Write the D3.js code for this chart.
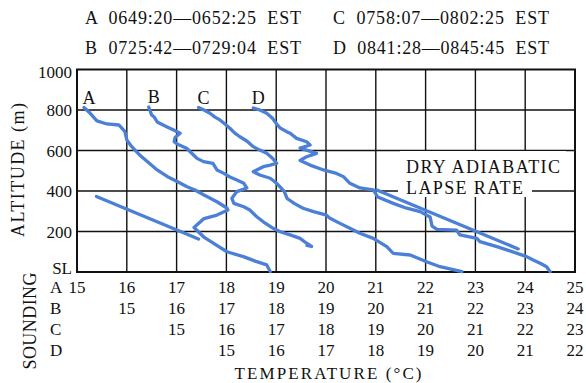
<!DOCTYPE html>
<html>
<head>
<meta charset="utf-8">
<script src="https://cdn.jsdelivr.net/npm/d3@7"></script>
<style>
  body { margin: 0; background: #fff; }
</style>
</head>
<body>
<figure id="chart" style="margin:0"></figure>
<script>
// soundings and their launch times
const soundings = ["A", "B", "C", "D"];
const soundingTimes = ["0649:20—0652:25", "0725:42—0729:04", "0758:07—0802:25", "0841:28—0845:45"];
// each sounding has its own temperature row under the plot, value at the left edge
const rowStart = [15, 14, 13, 12];
const altTicks = [0, 200, 400, 600, 800, 1000];
const altLabels = ["SL", "200", "400", "600", "800", "1000"];

// [temperature in that sounding's own scale, altitude m]
const soundingA = [[15.14, 812], [15.26, 785], [15.40, 746], [15.60, 731], [15.84, 726], [15.96, 694], [16.00, 652],
  [16.10, 619], [16.27, 575], [16.47, 533], [16.61, 504], [16.81, 472], [17.01, 447], [17.21, 421], [17.37, 405],
  [17.55, 380], [17.81, 347], [18.01, 316], [18.03, 306], [17.81, 281], [17.55, 264], [17.35, 220], [17.54, 174],
  [17.80, 133], [18.01, 100], [18.34, 76], [18.61, 51], [18.81, 35], [18.88, 2]];
const soundingB = [[15.44, 815], [15.50, 775], [15.55, 765], [15.61, 741], [15.67, 733], [15.81, 716], [15.94, 701],
  [16.07, 685], [15.97, 664], [15.95, 643], [16.01, 632], [16.20, 611], [16.34, 578], [16.41, 561], [16.54, 545],
  [16.73, 536], [16.81, 504], [16.95, 487], [17.07, 469], [17.21, 454], [17.35, 438], [17.41, 415], [17.21, 397],
  [17.11, 364], [17.15, 339], [17.35, 322], [17.47, 306], [17.61, 273], [17.74, 248], [17.94, 216], [18.08, 199],
  [18.28, 183], [18.48, 166], [18.61, 142], [18.71, 126], [18.62, 131]];
const soundingC = [[15.44, 812], [15.55, 800], [15.67, 784], [15.77, 765], [15.87, 751], [15.97, 731], [16.07, 710],
  [16.17, 686], [16.27, 668], [16.41, 647], [16.54, 619], [16.67, 602], [16.81, 586], [16.92, 563], [17.01, 537],
  [16.88, 528], [16.74, 520], [16.54, 495], [16.67, 479], [16.88, 463], [17.01, 438], [17.16, 398], [17.22, 363],
  [17.36, 339], [17.54, 315], [17.75, 298], [18.01, 281], [18.08, 265], [18.28, 240], [18.48, 216], [18.68, 191],
  [18.95, 166], [19.22, 125], [19.35, 92], [19.69, 84], [20.02, 51], [20.29, 26], [20.73, 2]];
const soundingD = [[15.54, 810], [15.67, 800], [15.81, 784], [15.92, 760], [16.01, 731], [16.08, 711], [16.21, 693],
  [16.28, 685], [16.41, 660], [16.61, 643], [16.68, 627], [16.48, 612], [16.61, 602], [16.81, 586], [16.61, 569],
  [16.48, 551], [16.68, 528], [16.95, 504], [17.21, 487], [17.35, 471], [17.48, 438], [17.68, 415], [17.95, 405],
  [18.04, 370], [18.35, 339], [18.62, 315], [18.89, 298], [19.09, 272], [19.13, 227], [19.23, 210], [19.62, 207],
  [19.69, 183], [20.03, 166], [20.09, 150], [20.43, 125], [20.63, 109], [21.03, 76], [21.16, 59], [21.30, 43],
  [21.43, 26], [21.50, 2]];
const soundingData = [soundingA, soundingB, soundingC, soundingD];

// dry adiabatic reference lines, in row A temperatures
const adiabatLeft = [[15.39, 373], [17.44, 163]];
const adiabatRight = [[21.02, 405], [23.86, 114]];

const width = 586, height = 383;
const plotLeft = 77, plotRight = 575, plotTop = 69.5, plotBottom = 272;
const blue = "#4b80d6";

const svg = d3.select("#chart").append("svg")
  .attr("width", width).attr("height", height)
  .attr("font-family", "'Liberation Serif', 'DejaVu Serif', 'Times New Roman', serif")
  .attr("fill", "#111");

const y = d3.scaleLinear().domain([0, 1000]).range([plotBottom, plotTop]);
const xs = rowStart.map(s => d3.scaleLinear().domain([s, s + 10]).range([plotLeft, plotRight]));
const x = xs[0];

// grid
const grid = svg.append("g").attr("stroke", "#111").attr("stroke-width", 1.4);
grid.selectAll(".v").data(d3.range(16, 25)).enter().append("line")
  .attr("x1", d => x(d)).attr("x2", d => x(d)).attr("y1", plotTop).attr("y2", plotBottom);
grid.selectAll(".h").data(altTicks.slice(1, -1)).enter().append("line")
  .attr("x1", plotLeft).attr("x2", plotRight).attr("y1", d => y(d)).attr("y2", d => y(d));

// white box behind the label
svg.append("rect").attr("x", 400).attr("y", 151).attr("width", 166).attr("height", 27).attr("fill", "#fff");
svg.append("rect").attr("x", 398).attr("y", 178).attr("width", 134).attr("height", 19).attr("fill", "#fff");

svg.append("rect").attr("x", plotLeft).attr("y", plotTop)
  .attr("width", plotRight - plotLeft).attr("height", plotBottom - plotTop)
  .attr("fill", "none").attr("stroke", "#111").attr("stroke-width", 2);

svg.append("text").attr("x", 406).attr("y", 173).attr("font-size", 18)
  .attr("textLength", 154).attr("lengthAdjust", "spacing").text("DRY ADIABATIC");
svg.append("text").attr("x", 406).attr("y", 194).attr("font-size", 18)
  .attr("textLength", 117).attr("lengthAdjust", "spacing").text("LAPSE RATE");

// soundings
const line = sc => d3.line().x(d => sc(d[0])).y(d => y(d[1]));
soundingData.forEach((data, i) => {
  svg.append("path").datum(data)
    .attr("d", line(xs[i]))
    .attr("fill", "none").attr("stroke", blue).attr("stroke-width", 3.3)
    .attr("stroke-linejoin", "round").attr("stroke-linecap", "round");
  svg.append("text")
    .attr("x", xs[i](data[0][0]) + 5).attr("y", y(data[0][1]) - 4)
    .attr("text-anchor", "middle").attr("font-size", 18).text(soundings[i]);
});
[adiabatLeft, adiabatRight].forEach(d => {
  svg.append("path").datum(d).attr("d", line(x))
    .attr("fill", "none").attr("stroke", blue).attr("stroke-width", 3.3).attr("stroke-linecap", "round");
});

// altitude axis
svg.selectAll(".ytick").data(altTicks).enter().append("text")
  .attr("x", 72).attr("y", (d, i) => y(d) + 6 + (i == 5 ? 2 : 0) - (i == 0 ? 4 : 0))
  .attr("text-anchor", "end").attr("font-size", 17)
  .text((d, i) => altLabels[i]);
svg.append("text").attr("transform", "translate(24,170) rotate(-90)")
  .attr("text-anchor", "middle").attr("font-size", 18)
  .attr("textLength", 134).attr("lengthAdjust", "spacing").text("ALTITUDE (m)");

// temperature rows
const rowY = [292.5, 313.5, 335, 356];
soundings.forEach((s, i) => {
  svg.append("text").attr("x", 50).attr("y", rowY[i]).attr("font-size", 17).text(s);
  const vals = d3.range(15, rowStart[i] + 11);
  svg.selectAll(".t" + s).data(vals).enter().append("text")
    .attr("x", d => xs[i](d)).attr("y", rowY[i])
    .attr("text-anchor", "middle").attr("font-size", 17).text(d => d);
});
svg.append("text").attr("transform", "translate(36,321) rotate(-90)")
  .attr("text-anchor", "middle").attr("font-size", 18)
  .attr("textLength", 97).attr("lengthAdjust", "spacing").text("SOUNDING");
svg.append("text").attr("x", 328).attr("y", 379).attr("text-anchor", "middle").attr("font-size", 17)
  .attr("textLength", 187).attr("lengthAdjust", "spacing").text("TEMPERATURE (°C)");

// header with launch times
const headX = [85, 85, 333, 333], headY = [24, 54, 24, 54];
soundings.forEach((s, i) => {
  svg.append("text").attr("x", headX[i]).attr("y", headY[i]).attr("font-size", 18)
    .attr("textLength", 216).attr("lengthAdjust", "spacing")
    .attr("xml:space", "preserve")
    .text(s + "  " + soundingTimes[i] + "  EST");
});
</script>
</body>
</html>
